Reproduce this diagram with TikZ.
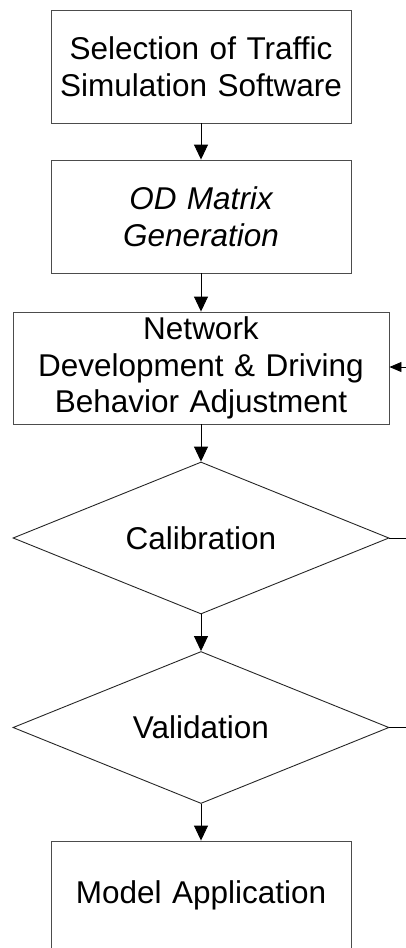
\documentclass[tikz,border=0pt]{standalone}
\usepackage{fontspec}
\setmainfont{Liberation Sans}
\usetikzlibrary{shapes.geometric,arrows.meta}
\begin{document}
\begin{tikzpicture}[x=1pt,y=-1pt,
  font=\fontsize{31.5}{36.5}\selectfont,
  stepbox/.style={draw=black!70,line width=0.9pt,rectangle,inner sep=0pt,align=center,text width=#1,minimum width=#1},
  decbox/.style={draw=black!85,line width=0.9pt,diamond,inner sep=0pt,minimum width=376pt,minimum height=152pt,shape aspect=2.47},
  flow/.style={draw=black,line width=0.9pt,-{Triangle[length=15pt,width=14pt]}},
  side/.style={draw=black,line width=0.9pt,-{Triangle[length=12pt,width=10pt]}}]
\useasboundingbox (0,0) rectangle (406,948);
\node[stepbox=300pt,minimum height=113pt] (sel) at (201,66.5) {Selection of Traffic\\Simulation Software};
\node[stepbox=300pt,minimum height=113pt,font=\fontsize{31.5}{36.5}\selectfont\itshape] (od) at (201,216.5) {OD Matrix\\Generation};
\node[stepbox=376pt,minimum height=112pt] (net) at (201,368) {Network\\Development \& Driving\\Behavior Adjustment};
\node[decbox] (cal) at (201,538) {Calibration};
\node[decbox] (val) at (201,727.5) {Validation};
\node[stepbox=300pt,minimum height=108pt] (app) at (201,895) {Model Application};
\coordinate (fb) at (406,367);
\coordinate (cr) at (406,538);
\coordinate (vr) at (406,727.5);
\draw[flow] (sel) -- (od);
\draw[flow] (od) -- (net);
\draw[flow] (net) -- (cal);
\draw[flow] (cal) -- (val);
\draw[flow] (val) -- (app);
\draw[side] (fb) -- (fb -| net.east);
\draw[line width=0.9pt] (cal.east) -- (cr);
\draw[line width=0.9pt] (val.east) -- (vr);
\end{tikzpicture}
\end{document}
